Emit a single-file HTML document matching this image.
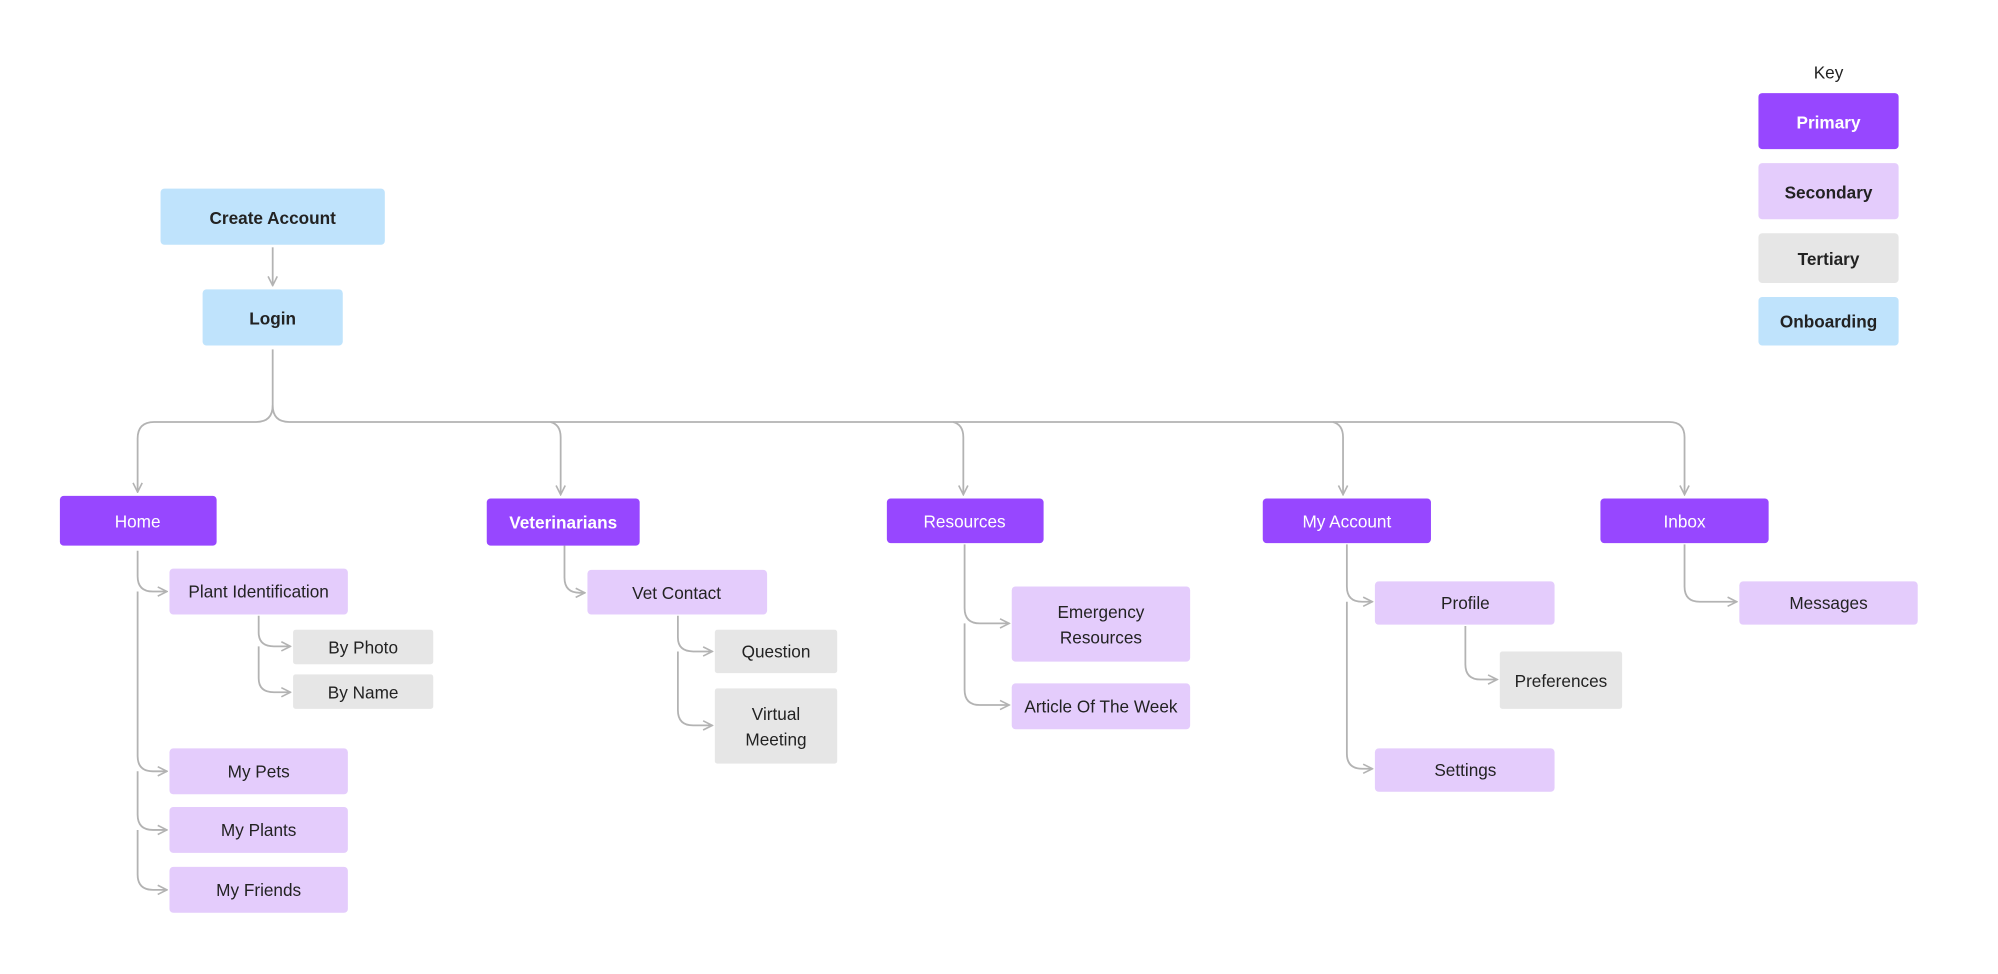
<!DOCTYPE html>
<html><head><meta charset="utf-8"><style>
html,body{margin:0;padding:0;background:#fff;}
svg{display:block;}
text{font-family:"Liberation Sans",sans-serif;font-size:13.5px;fill:#222;text-anchor:middle;dominant-baseline:central;}
.b{font-weight:bold;}
.w{fill:#fff;}
.c{fill:none;stroke:#b3b3b3;stroke-width:1.4;}
</style></head><body>
<svg width="1998" height="974" viewBox="0 0 1568 764" preserveAspectRatio="none" xmlns="http://www.w3.org/2000/svg">
<defs>
<marker id="a" viewBox="0 0 10 10" refX="9" refY="5" markerWidth="9" markerHeight="9" markerUnits="userSpaceOnUse" orient="auto">
<path d="M1,1 L9,5 L1,9" fill="none" stroke="#b3b3b3" stroke-width="1.4"/>
</marker>
</defs>
<!-- connectors -->
<g class="c" marker-end="url(#a)">
<path d="M214,194 V224"/>
<path d="M214,274 V318 Q214,331 201,331 H121 Q108,331 108,344 V386"/>
<path d="M214,318 Q214,331 227,331 H1310 Q1322,331 1322,343 V388"/>
<path d="M432,331 Q440,333 440,343 V388"/>
<path d="M748,331 Q756,333 756,343 V388"/>
<path d="M1046,331 Q1054,333 1054,343 V388"/>
<path d="M108,432 V452 Q108,464 120,464 H131"/>
<path d="M108,464 V593 Q108,605 120,605 H131"/>
<path d="M108,605 V639 Q108,651 120,651 H131"/>
<path d="M108,651 V686 Q108,698 120,698 H131"/>
<path d="M203,483 V496 Q203,507 215,507 H228"/>
<path d="M203,507 V532 Q203,543 215,543 H228"/>
<path d="M443,428 V453 Q443,465 455,465 H459"/>
<path d="M532,483 V500 Q532,511 544,511 H559"/>
<path d="M532,511 V557 Q532,569 544,569 H559"/>
<path d="M757,427 V477 Q757,489 769,489 H792"/>
<path d="M757,489 V541 Q757,553 769,553 H792"/>
<path d="M1057,427 V460 Q1057,472 1069,472 H1077"/>
<path d="M1057,472 V591 Q1057,603 1069,603 H1077"/>
<path d="M1150,491 V521 Q1150,533 1162,533 H1175"/>
<path d="M1322,427 V460 Q1322,472 1334,472 H1363"/>
</g>
<!-- onboarding -->
<rect x="126" y="148" width="176" height="44" rx="3" fill="#bfe3fc"/><text class="b" x="214" y="171">Create Account</text>
<rect x="159" y="227" width="110" height="44" rx="3" fill="#bfe3fc"/><text class="b" x="214" y="250">Login</text>
<!-- key -->
<text x="1435" y="57">Key</text>
<rect x="1380" y="73" width="110" height="44" rx="3" fill="#9747ff"/><text class="b w" x="1435" y="96">Primary</text>
<rect x="1380" y="128" width="110" height="44" rx="3" fill="#e4ccfc"/><text class="b" x="1435" y="151">Secondary</text>
<rect x="1380" y="183" width="110" height="39" rx="3" fill="#e6e6e6"/><text class="b" x="1435" y="203">Tertiary</text>
<rect x="1380" y="233" width="110" height="38" rx="3" fill="#bfe3fc"/><text class="b" x="1435" y="252">Onboarding</text>
<!-- primary -->
<rect x="47" y="389" width="123" height="39" rx="3" fill="#9747ff"/><text class="w" x="108" y="409">Home</text>
<rect x="382" y="391" width="120" height="37" rx="3" fill="#9747ff"/><text class="b w" x="442" y="410">Veterinarians</text>
<rect x="696" y="391" width="123" height="35" rx="3" fill="#9747ff"/><text class="w" x="757" y="409">Resources</text>
<rect x="991" y="391" width="132" height="35" rx="3" fill="#9747ff"/><text class="w" x="1057" y="409">My Account</text>
<rect x="1256" y="391" width="132" height="35" rx="3" fill="#9747ff"/><text class="w" x="1322" y="409">Inbox</text>
<!-- secondary -->
<g fill="#e4ccfc">
<rect x="133" y="446" width="140" height="36" rx="3"/>
<rect x="133" y="587" width="140" height="36" rx="3"/>
<rect x="133" y="633" width="140" height="36" rx="3"/>
<rect x="133" y="680" width="140" height="36" rx="3"/>
<rect x="461" y="447" width="141" height="35" rx="3"/>
<rect x="794" y="460" width="140" height="59" rx="3"/>
<rect x="794" y="536" width="140" height="36" rx="3"/>
<rect x="1079" y="456" width="141" height="34" rx="3"/>
<rect x="1079" y="587" width="141" height="34" rx="3"/>
<rect x="1365" y="456" width="140" height="34" rx="3"/>
</g>
<text x="203" y="464">Plant Identification</text>
<text x="203" y="605">My Pets</text>
<text x="203" y="651">My Plants</text>
<text x="203" y="698">My Friends</text>
<text x="531" y="465">Vet Contact</text>
<text x="864" y="480">Emergency</text><text x="864" y="500">Resources</text>
<text x="864" y="554">Article Of The Week</text>
<text x="1150" y="473">Profile</text>
<text x="1150" y="604">Settings</text>
<text x="1435" y="473">Messages</text>
<!-- tertiary -->
<g fill="#e6e6e6">
<rect x="230" y="494" width="110" height="27" rx="2"/>
<rect x="230" y="529" width="110" height="27" rx="2"/>
<rect x="561" y="494" width="96" height="34" rx="2"/>
<rect x="561" y="540" width="96" height="59" rx="2"/>
<rect x="1177" y="511" width="96" height="45" rx="2"/>
</g>
<text x="285" y="508">By Photo</text>
<text x="285" y="543">By Name</text>
<text x="609" y="511">Question</text>
<text x="609" y="560">Virtual</text><text x="609" y="580">Meeting</text>
<text x="1225" y="534">Preferences</text>
</svg>
</body></html>
